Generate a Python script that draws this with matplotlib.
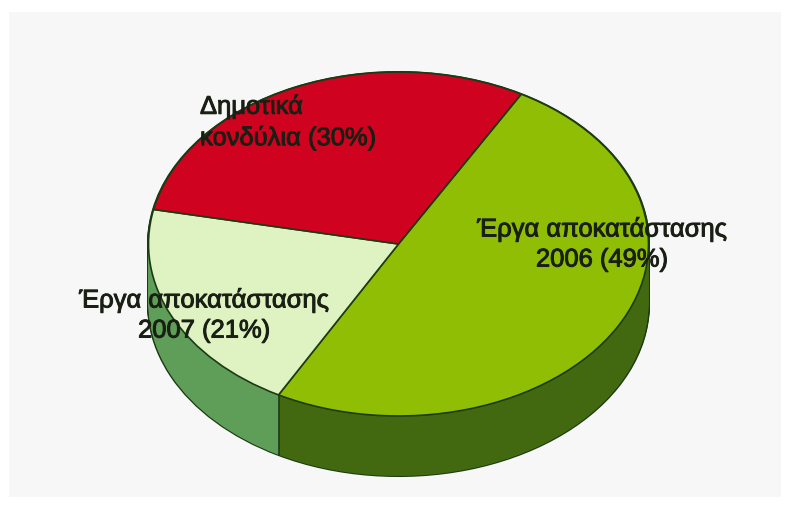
import numpy as np
import matplotlib
matplotlib.use("Agg")
import matplotlib.pyplot as plt
import matplotlib.patheffects as pe
from matplotlib.patches import Rectangle

labels = ["Έργα αποκατάστασης\n2006 (49%)", "Έργα αποκατάστασης\n2007 (21%)", "Δημοτικά\nκονδύλια (30%)"]
values = [49.8, 20.25, 29.95]
top_colors = ["#8fbe05", "#dff2c2", "#cf0220"]
side_colors = ["#42690f", "#5f9e58", "#8a0a1a"]
edge = "#1c3a14"

W, H = 786, 520
CX, CY, A, B, DEPTH = 398.5, 244, 250, 172, 60
START = 60.6

plt.rcParams["font.family"] = ["Liberation Sans", "DejaVu Sans"]
fig = plt.figure(figsize=(W / 100, H / 100), dpi=100, facecolor="white")
ax = fig.add_axes([0, 0, 1, 1])

fig.patches.append(Rectangle((9 / W, 1 - 497 / H), 772 / W, 485 / H, transform=fig.transFigure,
                             facecolor="#f7f7f8", edgecolor="none", zorder=-1))

d = DEPTH / B
# outline of the extruded side
for off in np.linspace(d, 0, 40):
    ax.pie(values, colors=[edge] * 3, startangle=START, counterclock=False,
           radius=1.006, center=(0, -off))
# side surface
for off in np.linspace(d, 0, 40):
    ax.pie(values, colors=side_colors, startangle=START, counterclock=False, center=(0, -off))

# top surface
ax.pie(values, colors=top_colors, startangle=START, counterclock=False,
       wedgeprops=dict(edgecolor=edge, linewidth=1.2))

# vertical seam between the two visible side colours
theta = np.deg2rad(START - 360 * values[0] / sum(values))
ax.plot([np.cos(theta)] * 2, [np.sin(theta), np.sin(theta) - d], color=edge, lw=1.2)

ax.set_aspect("auto")
ax.set_xlim(-CX / A, (W - CX) / A)
ax.set_ylim((CY - H) / B, CY / B)
ax.axis("off")

positions = [(602, 244), (204, 315), (200, 122)]
aligns = ["center", "center", "left"]
for s, (px, py), ha in zip(labels, positions, aligns):
    ax.text((px - CX) / A, (CY - py) / B, s, ha=ha, va="center", multialignment=ha,
            fontsize=18.4, color="#1a1f14", linespacing=1.32, zorder=10,
            path_effects=[pe.withStroke(linewidth=0.7, foreground="#1a1f14")])

fig.savefig("out.png", dpi=100, facecolor="white")
